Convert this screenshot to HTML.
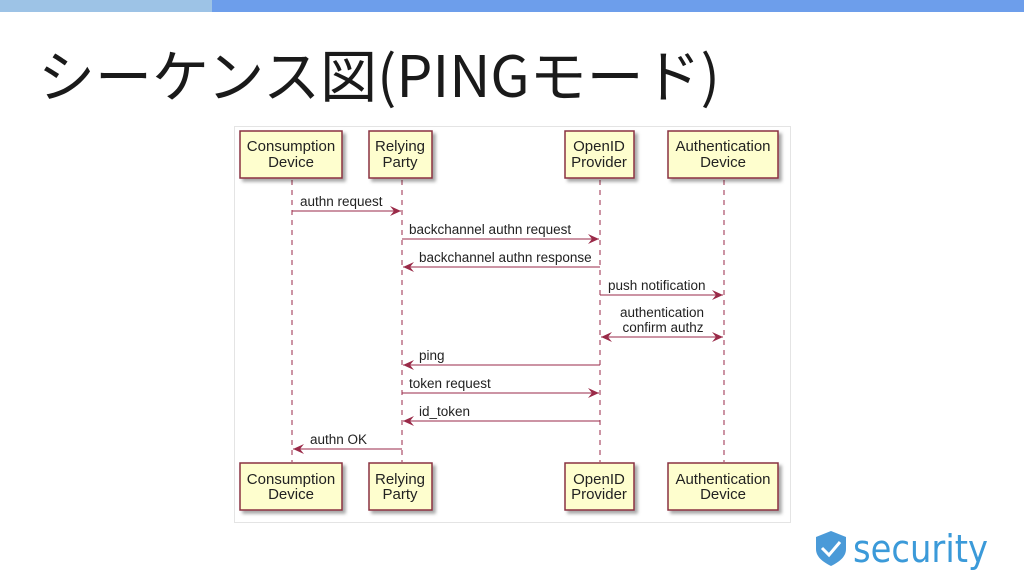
<!DOCTYPE html>
<html><head><meta charset="utf-8"><style>
body{margin:0;width:1024px;height:576px;overflow:hidden;background:#fff;position:relative;font-family:"Liberation Sans","Noto Sans CJK JP",sans-serif}
.b1{position:absolute;left:0;top:0;width:212px;height:12px;background:#9dc3e6}
.b2{position:absolute;left:212px;top:0;width:812px;height:12px;background:#6d9eeb}
.t{position:absolute;left:38px;top:38px;font-size:57px;color:#1a1a1a;line-height:70px;white-space:nowrap;font-family:"Noto Sans CJK JP",sans-serif;font-weight:400}
</style></head><body>
<div class="b1"></div><div class="b2"></div>
<div class="t">シーケンス図(PINGモード)</div>
<svg width="1024" height="576" style="position:absolute;left:0;top:0" font-family="Liberation Sans, sans-serif">
<defs>
<marker id="a" markerWidth="12" markerHeight="10" refX="11" refY="5" orient="auto" markerUnits="userSpaceOnUse"><path d="M0,0 L11,5 L0,10 L4,5z" fill="#9a2a48"/></marker>
<marker id="s" markerWidth="12" markerHeight="10" refX="1" refY="5" orient="auto" markerUnits="userSpaceOnUse"><path d="M12,0 L1,5 L12,10 L8,5z" fill="#9a2a48"/></marker>
<filter id="sh"><feDropShadow dx="3" dy="3" stdDeviation="1.5" flood-color="#000" flood-opacity="0.35"/></filter>
</defs>
<rect x="234.5" y="126.5" width="556" height="396" fill="#fff" stroke="#e4e4e4"/>
<g stroke="#9a2a48" stroke-dasharray="5,5" stroke-width="1">
<line x1="292" y1="180" x2="292" y2="462"/><line x1="402" y1="180" x2="402" y2="462"/>
<line x1="600" y1="180" x2="600" y2="462"/><line x1="724" y1="180" x2="724" y2="462"/>
</g>
<g fill="#fefece" stroke="#8a3040" stroke-width="1.5" filter="url(#sh)">
<rect x="240" y="131" width="102" height="47"/><rect x="369" y="131" width="63" height="47"/>
<rect x="565" y="131" width="69" height="47"/><rect x="668" y="131" width="110" height="47"/>
<rect x="240" y="463" width="102" height="47"/><rect x="369" y="463" width="63" height="47"/>
<rect x="565" y="463" width="69" height="47"/><rect x="668" y="463" width="110" height="47"/>
</g>
<g font-size="15" fill="#222" text-anchor="middle">
<text x="291" y="151">Consumption</text><text x="291" y="167">Device</text>
<text x="400" y="151">Relying</text><text x="400" y="167">Party</text>
<text x="599" y="151">OpenID</text><text x="599" y="167">Provider</text>
<text x="723" y="151">Authentication</text><text x="723" y="167">Device</text>
<text x="291" y="484">Consumption</text><text x="291" y="499">Device</text>
<text x="400" y="484">Relying</text><text x="400" y="499">Party</text>
<text x="599" y="484">OpenID</text><text x="599" y="499">Provider</text>
<text x="723" y="484">Authentication</text><text x="723" y="499">Device</text>
</g>
<g stroke="#9a2a48" stroke-width="1">
<line x1="292" y1="211" x2="401" y2="211" marker-end="url(#a)"/>
<line x1="402" y1="239" x2="599" y2="239" marker-end="url(#a)"/>
<line x1="600" y1="267" x2="403" y2="267" marker-end="url(#a)"/>
<line x1="600" y1="295" x2="723" y2="295" marker-end="url(#a)"/>
<line x1="601" y1="337" x2="723" y2="337" marker-end="url(#a)" marker-start="url(#s)"/>
<line x1="600" y1="365" x2="403" y2="365" marker-end="url(#a)"/>
<line x1="402" y1="393" x2="599" y2="393" marker-end="url(#a)"/>
<line x1="600" y1="421" x2="403" y2="421" marker-end="url(#a)"/>
<line x1="402" y1="449" x2="293" y2="449" marker-end="url(#a)"/>
</g>
<g font-size="13.5" fill="#222">
<text x="300" y="206">authn request</text>
<text x="409" y="234">backchannel authn request</text>
<text x="419" y="262">backchannel authn response</text>
<text x="608" y="290">push notification</text>
<text x="662" y="317" text-anchor="middle">authentication</text>
<text x="663" y="332" text-anchor="middle">confirm authz</text>
<text x="419" y="360">ping</text>
<text x="409" y="388">token request</text>
<text x="419" y="416">id_token</text>
<text x="310" y="444">authn OK</text>
</g>
<path d="M831,531 L846,537 L846,549 C846,557 839,562 831,566 C823,562 816,557 816,549 L816,537z" fill="#4a9ad8"/>
<path d="M822,548 L829,555 L840,542" fill="none" stroke="#fff" stroke-width="3"/>
<text x="853" y="562" font-size="38" fill="#3b9ad9" font-family="DejaVu Sans, sans-serif" textLength="135" lengthAdjust="spacingAndGlyphs">security</text>
</svg>
</body></html>
